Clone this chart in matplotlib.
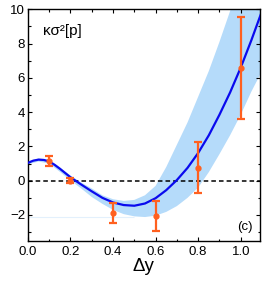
import numpy as np
import matplotlib
matplotlib.use("Agg")
import matplotlib.pyplot as plt
from matplotlib.ticker import MultipleLocator

plt.rcParams["font.family"] = ["Liberation Sans", "DejaVu Sans"]

# Data points with error bars
dy_pts = [0.1, 0.2, 0.4, 0.6, 0.8, 1.0]
kappa_pts = [1.14, 0.0, -1.9, -2.08, 0.75, 6.6]
kappa_err = [0.29, 0.14, 0.58, 0.87, 1.48, 2.97]

# Curve
curve_x = [0.00, 0.025, 0.05, 0.075, 0.10, 0.125, 0.15, 0.20, 0.25, 0.30, 0.35, 0.40, 0.45, 0.50,
           0.55, 0.60, 0.65, 0.70, 0.75, 0.80, 0.85, 0.90, 0.95, 1.00, 1.05, 1.10]
curve_y = [1.04, 1.17, 1.23, 1.21, 1.12, 0.93, 0.70, 0.20, -0.22, -0.62, -1.00, -1.27, -1.42, -1.46,
           -1.33, -1.02, -0.55, 0.04, 0.75, 1.62, 2.65, 3.85, 5.15, 6.60, 8.20, 9.90]

# Shaded band (lower / upper)
band_x = [0.00, 0.05, 0.10, 0.15, 0.20, 0.25, 0.30, 0.35, 0.40, 0.45, 0.50,
          0.55, 0.60, 0.65, 0.70, 0.75, 0.80, 0.85, 0.90, 0.95, 1.00, 1.05, 1.10]
band_lo = [0.95, 1.12, 1.00, 0.52, 0.02, -0.45, -0.95, -1.35, -1.70, -1.95, -2.08,
           -2.12, -2.04, -1.82, -1.48, -1.00, -0.40, 0.50, 1.55, 2.65, 3.85, 5.20, 6.40]
band_hi = [1.12, 1.30, 1.22, 0.78, 0.30, -0.10, -0.45, -0.85, -1.08, -1.18, -1.12,
           -0.85, -0.30, 0.80, 2.10, 3.40, 4.90, 6.40, 8.10, 9.90, 11.8, 13.8, 15.8]

fig = plt.figure(figsize=(2.66, 2.83), dpi=100)
ax = fig.add_axes([0.105, 0.1495, 0.872, 0.8175])

ax.fill_between(band_x, band_lo, band_hi, color="#b5dbfa", lw=0, zorder=1)
ax.hlines(min(band_lo), 0, band_x[int(np.argmin(band_lo))] - 0.05, color="#e3f0fc", lw=0.8, zorder=1)
ax.axhline(0, color="black", ls=(0, (3, 2)), lw=1.1, zorder=2)
ax.plot(curve_x, curve_y, color="#0a0aee", lw=1.6, zorder=3)
ax.errorbar(dy_pts, kappa_pts, yerr=kappa_err, fmt="o", color="#ff601f",
            ms=3.5, lw=1.6, capsize=3, capthick=1.6, zorder=4)

ax.set_xlim(0, 1.09)
ax.set_ylim(-3.5, 10)
ax.xaxis.set_major_locator(MultipleLocator(0.2))
ax.xaxis.set_minor_locator(MultipleLocator(0.1))
ax.yaxis.set_major_locator(MultipleLocator(2))
ax.yaxis.set_minor_locator(MultipleLocator(1))
ax.set_xticks([0.0, 0.2, 0.4, 0.6, 0.8, 1.0])
ax.set_xticklabels(["0.0", "0.2", "0.4", "0.6", "0.8", "1.0"])
ax.tick_params(which="both", direction="in", top=True, right=True, labelsize=9.5, width=0.8)
ax.tick_params(which="major", length=3.2)
ax.tick_params(which="minor", length=1.8)
ax.tick_params(axis="y", pad=2)
ax.tick_params(axis="x", pad=4)
for s in ax.spines.values():
    s.set_linewidth(1.0)

ax.set_xlabel("Δy", fontsize=13.5, labelpad=0)
ax.text(0.065, 0.935, "κσ²[p]", transform=ax.transAxes, fontsize=11, va="top", ha="left")
ax.text(0.97, 0.035, "(c)", transform=ax.transAxes, fontsize=9.5, va="bottom", ha="right")

fig.savefig("out.png", dpi=100)
